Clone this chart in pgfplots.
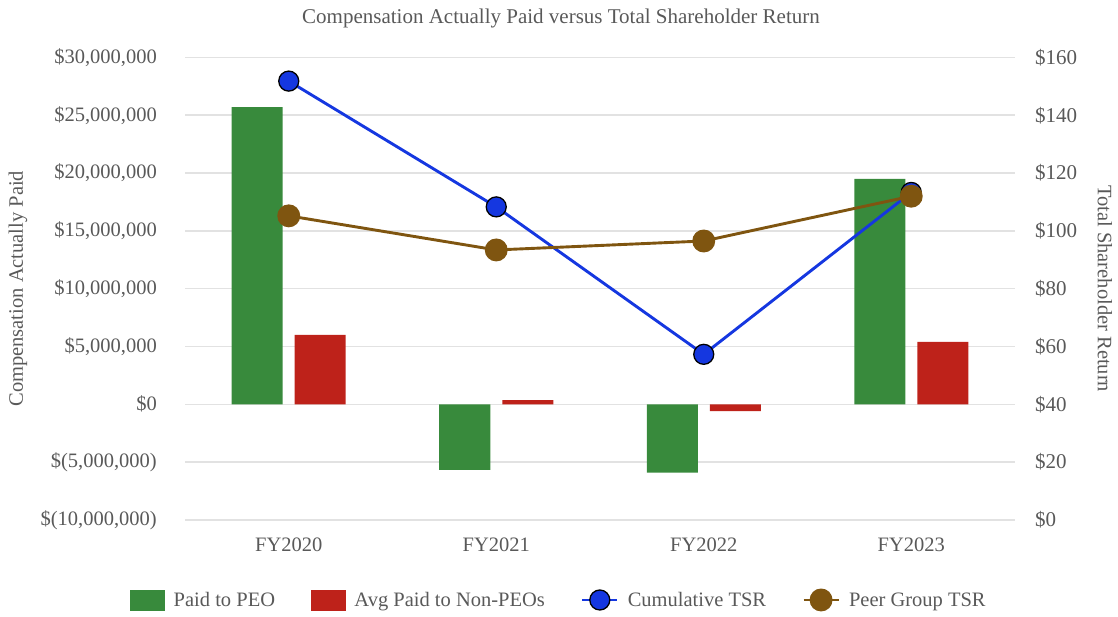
\documentclass[border=0pt]{standalone}
\usepackage{pgfplots}
\pgfplotsset{compat=1.18}
\usepackage{fontspec}
\setmainfont{Liberation Serif}
\usetikzlibrary{calc}

\definecolor{peo}{RGB}{56,138,60}
\definecolor{npeo}{RGB}{190,34,26}
\definecolor{tsr}{RGB}{21,55,224}
\definecolor{peer}{RGB}{127,85,16}
\definecolor{txt}{RGB}{89,89,89}
\definecolor{gridc}{RGB}{226,226,226}

\newcommand{\f}{\fontsize{20.5bp}{24bp}\selectfont}

\pgfplotstableread{
x peo npeo
0 25.70 6.00
1 -5.67 0.37
2 -5.90 -0.58
3 19.50 5.40
}\bars

\pgfplotstableread{
x tsr peer
0 151.8 105.2
1 108.3 93.4
2 57.3 96.5
3 113.3 112.0
}\lines

\begin{document}
\begin{tikzpicture}[x=1bp,y=1bp]
\pgfplotsset{
  base/.style={
    scale only axis, width=830bp, height=462.6bp, at={(0,0)}, anchor=south west,
    xmin=-0.5, xmax=3.5, axis line style={draw=none}, tick style={draw=none},
    major tick length=0pt,
    font=\f, text=txt,
  },
}
\begin{axis}[base,
  ymin=-10, ymax=30, ytick={-10,-5,0,5,10,15,20,25,30},
  yticklabels={{\$(10,000,000)},{\$(5,000,000)},{\$0},{\$5,000,000},{\$10,000,000},{\$15,000,000},{\$20,000,000},{\$25,000,000},{\$30,000,000}},
  xtick={0,1,2,3}, xticklabels={FY2020,FY2021,FY2022,FY2023},
  ymajorgrids, grid style={gridc, line width=1.6bp},
  yticklabel style={anchor=east, inner sep=0pt, xshift=-28bp, font=\f, text=txt},
  xticklabel style={anchor=north, inner sep=0pt, yshift=-18bp, font=\f, text=txt},
  ylabel={Compensation Actually Paid},
  ylabel style={at={(axis description cs:-0.2012,0.5)}, anchor=center, rotate=0, font=\f, text=txt},
  ybar=12bp, bar width=51bp,
]
\addplot[fill=peo, draw=none] table[x=x, y=peo] {\bars};
\addplot[fill=npeo, draw=none] table[x=x, y=npeo] {\bars};
\end{axis}
\begin{axis}[base,
  axis y line*=right, axis x line=none,
  ymin=0, ymax=160, ytick={0,20,...,160},
  yticklabels={{\$0},{\$20},{\$40},{\$60},{\$80},{\$100},{\$120},{\$140},{\$160}},
  yticklabel style={anchor=west, inner sep=0pt, xshift=20bp, font=\fontsize{21bp}{24bp}\selectfont, text=txt},
  ylabel={Total Shareholder Return},
  ylabel style={at={(axis description cs:1.1084,0.5)}, anchor=center, rotate=180, font=\f, text=txt},
  legend columns=4,
  legend style={at={(axis description cs:0.4506,-0.1729)}, anchor=center, draw=none, fill=none,
    font=\f, text=txt,
    /tikz/every odd column/.append style={column sep=7bp},
    /tikz/every even column/.append style={column sep=34bp},
    inner sep=0pt},
  legend cell align=left,
]
\addlegendimage{legend image code/.code={\fill[peo] (0bp,-10bp) rectangle (34bp,10bp);}}
\addlegendentry{Paid to PEO}
\addlegendimage{legend image code/.code={\fill[npeo] (0bp,-10bp) rectangle (34bp,10bp);}}
\addlegendentry{Avg Paid to Non-PEOs}
\addplot[tsr, line width=2.9bp, mark=*, mark size=10bp,
  mark options={fill=tsr, draw=black, line width=1.3bp},
  legend image code/.code={\draw[tsr, line width=2.9bp] (0bp,0bp) -- (35bp,0bp);
    \fill[tsr, draw=black, line width=1.3bp] (17.5bp,0bp) circle (10bp);}]
  table[x=x, y=tsr] {\lines};
\addlegendentry{Cumulative TSR}
\addplot[peer, line width=2.9bp, mark=*, mark size=10bp,
  mark options={fill=peer, draw=none},
  legend image code/.code={\draw[peer, line width=2.9bp] (0bp,0bp) -- (35bp,0bp);
    \fill[peer] (17.5bp,0bp) circle (10bp);}]
  table[x=x, y=peer] {\lines};
\addlegendentry{Peer Group TSR}
\end{axis}
\node[font=\fontsize{21bp}{24bp}\selectfont, text=txt] at (376bp,502bp) {Compensation Actually Paid versus Total Shareholder Return};
\pgfresetboundingbox
\path[use as bounding box] (-185bp,-97bp) rectangle (933bp,520bp);
\end{tikzpicture}
\end{document}
